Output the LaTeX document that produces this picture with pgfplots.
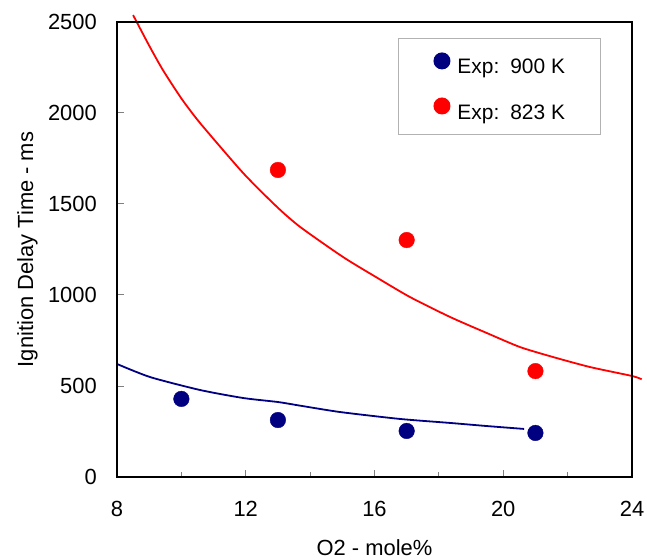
\documentclass[border=0pt]{standalone}
\usepackage{fontspec}
\setmainfont{Liberation Sans}
\usepackage{pgfplots}
\pgfplotsset{compat=1.18}
\definecolor{navyb}{RGB}{0,0,128}
\definecolor{redc}{RGB}{255,0,0}
\begin{document}
\begin{tikzpicture}
\begin{axis}[
  scale only axis, width=515bp, height=455bp,
  xmin=8, xmax=24, ymin=0, ymax=2500,
  xtick={8,12,16,20,24}, minor xtick={10,14,18,22},
  ytick={0,500,1000,1500,2000,2500},
  tick align=inside, xtick pos=left, ytick pos=left,
  major tick length=7bp, minor tick length=5bp,
  every tick/.style={draw=gray, line width=1bp},
  clip=false,
  /pgf/number format/assume math mode=true,
  /pgf/number format/set thousands separator={},
  tick label style={font=\fontsize{22}{26}\selectfont},
  xticklabel style={anchor=north, inner sep=0pt, yshift=-24bp},
  yticklabel style={anchor=east, inner sep=0pt, xshift=-20bp},
  xlabel={O2 - mole\%},
  ylabel={Ignition Delay Time - ms},
  label style={font=\fontsize{22}{26}\selectfont},
  xlabel style={at={(axis description cs:0.5,-0.172)}, anchor=base},
  ylabel style={at={(axis description cs:-0.1631,0.5)}, anchor=base, rotate=0},
  legend style={at={(axis description cs:0.5456,0.965)}, anchor=north west,
    draw=gray!60, line width=1bp, inner xsep=35bp, inner ysep=14bp,
    font=\fontsize{21}{25}\selectfont, row sep=22bp,
    nodes={inner sep=0pt},
    /tikz/every odd column/.append style={column sep=7bp}},
  legend cell align=left,
]
\addplot[only marks, mark=*, mark size=7.8bp, color=navyb,
  legend image code/.code={\fill[navyb] (0bp,6.5bp) circle (8bp);}] coordinates {
  (10,429) (13,313) (17,253) (21,242)};
\addlegendentry{Exp:\hspace{11bp}900 K}
\addplot[only marks, mark=*, mark size=7.8bp, color=redc,
  legend image code/.code={\fill[redc] (0bp,6.5bp) circle (8bp);}] coordinates {
  (13,1687) (17,1302) (21,582)};
\addlegendentry{Exp:\hspace{11bp}823 K}
\addplot[forget plot, no marks, smooth, tension=0.4, color=redc, line width=1.8bp] coordinates {
  (8.5,2538) (9.0,2370) (9.43,2235) (10.0,2080) (10.58,1945) (11.92,1670) (12.97,1484)
  (13.69,1374) (15.02,1209) (16.08,1095) (17.10,989) (18.35,879)
  (19.49,791) (20.52,714) (21.55,659) (22.70,604) (24.0,555) (24.3,537)};
\addplot[forget plot, no marks, smooth, tension=0.4, color=navyb, line width=1.8bp] coordinates {
  (8,621) (9.03,549) (10.58,478) (11.92,434) (13.0,412) (13.69,392) (14.93,357)
  (16.79,319) (18.35,297) (19.49,280) (20.65,264)};
\draw[line width=2.6bp, black] (rel axis cs:0,0) rectangle (rel axis cs:1,1);
\end{axis}
\pgfresetboundingbox
\path[use as bounding box] ([shift={(-117bp,-83bp)}]current axis.south west) rectangle ([shift={(15bp,22bp)}]current axis.north east);
\end{tikzpicture}
\end{document}
